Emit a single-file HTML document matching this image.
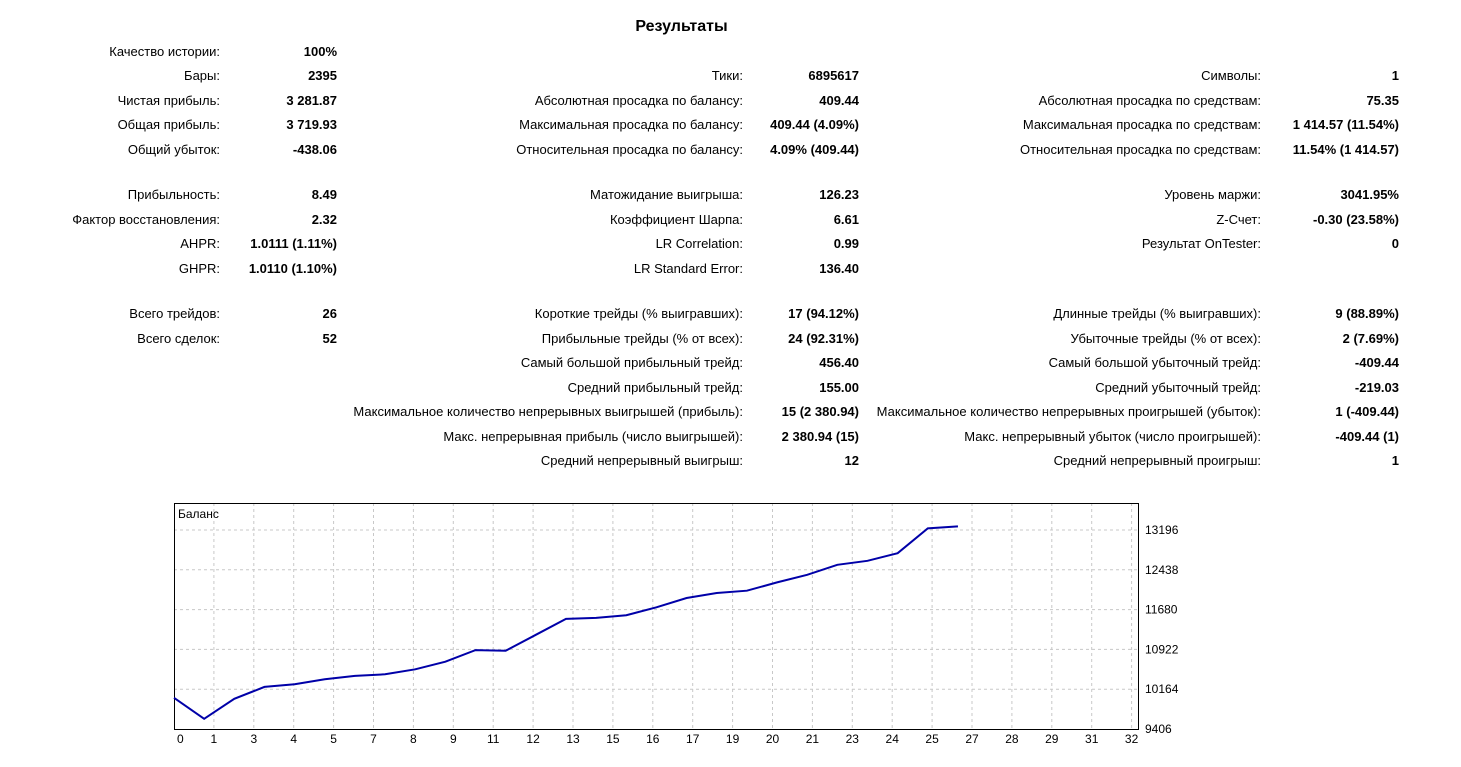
<!DOCTYPE html>
<html><head><meta charset="utf-8"><style>
body{margin:0;width:1461px;height:767px;background:#fff;position:relative;overflow:hidden;font-family:"Liberation Sans","DejaVu Sans",sans-serif;color:#000}
.c{position:absolute;font-size:13px;line-height:16px;white-space:nowrap;text-align:right}
.v{font-weight:bold;font-size:13px}
#title{position:absolute;left:0;width:1363px;text-align:center;top:18px;font-weight:bold;font-size:16px}
svg text{font-family:"Liberation Sans",sans-serif;font-size:12px}
</style></head><body>
<div id="title">Результаты</div>
<div id="stats"></div>
<svg id="chart" width="1461" height="767" style="position:absolute;left:0;top:0"></svg>
<script>
const rowsY=[52,76,101,125,150,195,220,244,269,314,339,363,388,412,437,461];
const cols=[[1241,1124],[718,602],[200,62]];
const cells=[
[0,0,"Качество истории:","100%"],
[1,0,"Бары:","2395"],[1,1,"Тики:","6895617"],[1,2,"Символы:","1"],
[2,0,"Чистая прибыль:","3 281.87"],[2,1,"Абсолютная просадка по балансу:","409.44"],[2,2,"Абсолютная просадка по средствам:","75.35"],
[3,0,"Общая прибыль:","3 719.93"],[3,1,"Максимальная просадка по балансу:","409.44 (4.09%)"],[3,2,"Максимальная просадка по средствам:","1 414.57 (11.54%)"],
[4,0,"Общий убыток:","-438.06"],[4,1,"Относительная просадка по балансу:","4.09% (409.44)"],[4,2,"Относительная просадка по средствам:","11.54% (1 414.57)"],
[5,0,"Прибыльность:","8.49"],[5,1,"Матожидание выигрыша:","126.23"],[5,2,"Уровень маржи:","3041.95%"],
[6,0,"Фактор восстановления:","2.32"],[6,1,"Коэффициент Шарпа:","6.61"],[6,2,"Z-Счет:","-0.30 (23.58%)"],
[7,0,"AHPR:","1.0111 (1.11%)"],[7,1,"LR Correlation:","0.99"],[7,2,"Результат OnTester:","0"],
[8,0,"GHPR:","1.0110 (1.10%)"],[8,1,"LR Standard Error:","136.40"],
[9,0,"Всего трейдов:","26"],[9,1,"Короткие трейды (% выигравших):","17 (94.12%)"],[9,2,"Длинные трейды (% выигравших):","9 (88.89%)"],
[10,0,"Всего сделок:","52"],[10,1,"Прибыльные трейды (% от всех):","24 (92.31%)"],[10,2,"Убыточные трейды (% от всех):","2 (7.69%)"],
[11,1,"Самый большой прибыльный трейд:","456.40"],[11,2,"Самый большой убыточный трейд:","-409.44"],
[12,1,"Средний прибыльный трейд:","155.00"],[12,2,"Средний убыточный трейд:","-219.03"],
[13,1,"Максимальное количество непрерывных выигрышей (прибыль):","15 (2 380.94)"],[13,2,"Максимальное количество непрерывных проигрышей (убыток):","1 (-409.44)"],
[14,1,"Макс. непрерывная прибыль (число выигрышей):","2 380.94 (15)"],[14,2,"Макс. непрерывный убыток (число проигрышей):","-409.44 (1)"],
[15,1,"Средний непрерывный выигрыш:","12"],[15,2,"Средний непрерывный проигрыш:","1"]];
const st=document.getElementById('stats');
cells.forEach(([r,c,l,v])=>{
  const a=document.createElement('div');a.className='c';a.textContent=l;
  a.style.right=cols[c][0]+'px';a.style.top=(rowsY[r]-8)+'px';
  
  
  st.appendChild(a);
  const b=document.createElement('div');b.className='c v';b.textContent=v;
  b.style.right=cols[c][1]+'px';b.style.top=(rowsY[r]-8)+'px';
  
  
  st.appendChild(b);
});
</script>
<script>
const balance=[10000,9600,9981,10208,10259,10353,10417,10448,10543,10688,10909,10897,11200,11503,11522,11573,11724,11901,11996,12040,12198,12343,12533,12609,12754,13228,13265];
const yTicks=[9406,10164,10922,11680,12438,13196];
const xTickLabels=["0","1","3","4","5","7","8","9","11","12","13","15","16","17","19","20","21","23","24","25","27","28","29","31","32"];
const L=174,R=1138,T=503,B=729;
const xStepTick=39.9, tradesPerTick=1.3233;
const xs=n=>L+n*xStepTick/tradesPerTick;
const ys=v=>B-(v-yTicks[0])*(B-530)/(yTicks[yTicks.length-1]-yTicks[0]);
const svg=document.getElementById('chart');const NS='http://www.w3.org/2000/svg';
function mk(t,at){const e=document.createElementNS(NS,t);for(const k in at)e.setAttribute(k,at[k]);svg.appendChild(e);return e;}
xTickLabels.forEach((lab,k)=>{
  const x=L+k*xStepTick;
  if(k>0){const g=mk('line',{x1:x,y1:T,x2:x,y2:B,stroke:'#c8c8c8','stroke-dasharray':'3,3'});
  
  }
  const t=mk('text',{x:k==0?x+3:x,y:B+14,'text-anchor':k==0?'start':'middle'});t.textContent=lab;
  
  
});
yTicks.forEach(v=>{
  const y=ys(v);
  if(v!==yTicks[0]){const g=mk('line',{x1:L,y1:y,x2:R,y2:y,stroke:'#c8c8c8','stroke-dasharray':'3,3'});
  
  }
  const t=mk('text',{x:R+7,y:y+4});t.textContent=v;
  
  
});
const fr=mk('rect',{x:L+0.5,y:T+0.5,width:R-L,height:B-T,fill:'none',stroke:'#000'});


const lt=mk('text',{x:L+4,y:T+15});lt.textContent='Баланс';


const pl=mk('polyline',{points:balance.map((v,i)=>xs(i)+','+ys(v)).join(' '),fill:'none',stroke:'#0000a8','stroke-width':2});


</script>
</body></html>
